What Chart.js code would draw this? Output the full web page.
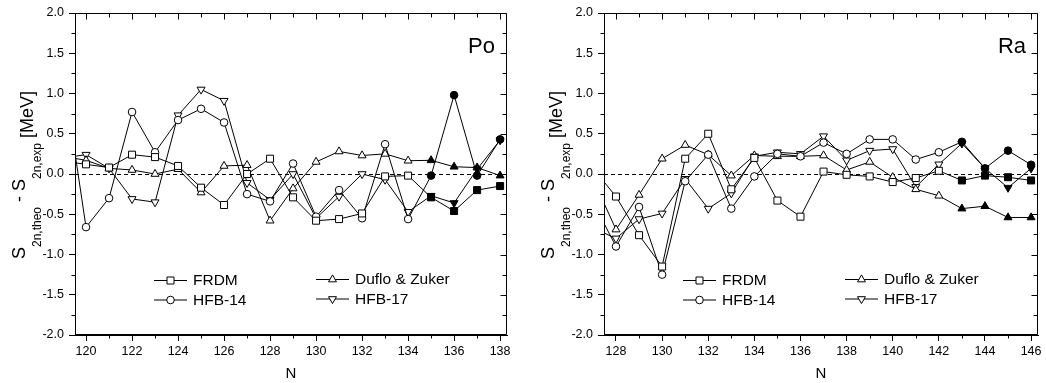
<!DOCTYPE html>
<html><head><meta charset="utf-8">
<script src="https://cdn.jsdelivr.net/npm/chart.js@4"></script>
<style>
html,body{margin:0;padding:0;background:#fff;overflow:hidden}
#wrap{position:relative;width:1046px;height:383px;background:#fff}
canvas{position:absolute;top:0}
</style></head><body>
<div id="wrap">
<canvas id="po" width="523" height="383" style="left:0"></canvas>
<canvas id="ra" width="523" height="383" style="left:523px"></canvas>
</div>
<script>
// ---------- data ----------
const poN    = [119,120,121,122,123,124,125,126,127,128,129,130,131,132,133,134,135,136,137,138];
const poFRDM = [0.16,0.12,0.08,0.24,0.21,0.10,-0.17,-0.385,0.00,0.19,-0.29,-0.58,-0.56,-0.49,-0.03,-0.02,-0.29,-0.46,-0.20,-0.15];
const poHFB14= [1.25,-0.66,-0.30,0.77,0.27,0.67,0.81,0.64,-0.25,-0.34,0.13,-0.53,-0.20,-0.55,0.37,-0.56,-0.02,0.98,-0.02,0.43];
const poDZ   = [0.22,0.17,0.07,0.05,0.00,0.06,-0.23,0.10,0.11,-0.58,-0.18,0.15,0.28,0.23,0.25,0.165,0.17,0.09,0.08,-0.02];
const poHFB17= [0.20,0.24,0.07,-0.31,-0.35,0.73,1.05,0.91,-0.11,-0.32,0.00,-0.55,-0.28,0.00,-0.07,-0.47,-0.27,-0.36,0.06,0.42];
const poFilledFrom = 135;

const raN    = [127,128,129,130,131,132,133,134,135,136,137,138,139,140,141,142,143,144,145,146];
const raFRDM = [0.07,-0.28,-0.76,-1.15,0.19,0.50,-0.19,0.20,-0.33,-0.53,0.03,-0.01,-0.03,-0.10,-0.05,0.04,-0.08,-0.02,-0.04,-0.08];
const raHFB14= [-0.35,-0.90,-0.41,-1.25,-0.09,0.24,-0.43,-0.03,0.25,0.22,0.39,0.25,0.43,0.43,0.18,0.27,0.40,0.07,0.29,0.115];
const raDZ   = [-0.06,-0.69,-0.26,0.19,0.36,0.24,-0.02,0.23,0.22,0.22,0.23,0.05,0.15,-0.04,-0.19,-0.27,-0.43,-0.40,-0.54,-0.54];
const raHFB17= [-0.67,-0.80,-0.56,-0.49,-0.06,-0.43,-0.24,0.22,0.27,0.25,0.47,0.17,0.29,0.31,-0.16,0.12,0.38,0.07,-0.17,0.07];
const raFilledFrom = 143;

const seriesNames = ['FRDM','HFB-14','Duflo & Zuker','HFB-17'];
const yTicks = [-2.0,-1.5,-1.0,-0.5,0.0,0.5,1.0,1.5,2.0];

// ---------- styling ----------
const FONT = "'Liberation Sans', Arial, sans-serif";
const markerDefs = [
  {style:'rect', radius:4.95, rotation:0},
  {style:'circle', radius:3.8, rotation:0},
  {style:'triangle', radius:4.6, rotation:0},
  {style:'triangle', radius:4.6, rotation:180}
];

function drawMarker(ctx, idx, x, y, fill){
  ctx.save();
  ctx.fillStyle = fill; ctx.strokeStyle = '#000'; ctx.lineWidth = 1;
  ctx.beginPath();
  if (idx === 0){ const h = 3.5; ctx.rect(x-h, y-h, 2*h, 2*h); }
  else if (idx === 1){ ctx.arc(x, y, 3.8, 0, Math.PI*2); }
  else {
    const r = 4.6, s = idx === 2 ? 1 : -1;
    ctx.moveTo(x, y - s*r);
    ctx.lineTo(x + 0.866*r, y + s*0.5*r);
    ctx.lineTo(x - 0.866*r, y + s*0.5*r);
    ctx.closePath();
  }
  ctx.fill(); ctx.stroke();
  ctx.restore();
}

const framePlugin = {
  id: 'frame',
  beforeDatasetsDraw(chart){
    const {ctx, chartArea:a, scales:{y}} = chart;
    const y0 = Math.round(y.getPixelForValue(0)) + 0.5;
    ctx.save();
    ctx.strokeStyle = '#000'; ctx.lineWidth = 1; ctx.setLineDash([4,3]);
    ctx.beginPath(); ctx.moveTo(a.left, y0); ctx.lineTo(a.right, y0); ctx.stroke();
    ctx.restore();
  },
  afterDraw(chart){
    const {ctx, chartArea:a, scales:{x, y}} = chart;
    const o = chart.options.plugins.frame;
    ctx.save();
    ctx.strokeStyle = '#000'; ctx.lineWidth = 1;
    const L = Math.round(a.left)+0.5, R = Math.round(a.right)-0.5, T = Math.round(a.top)+0.5, B = Math.round(a.bottom)-0.5;
    ctx.beginPath(); ctx.rect(L, T, R-L, B-T); ctx.stroke();
    ctx.beginPath();
    // x ticks: bottom (outward minor), top (inward all)
    for (let n = Math.ceil(x.min); n <= x.max; n++){
      const px = Math.round(x.getPixelForValue(n)) + 0.5;
      const major = n % 2 === 0;
      if (!major){ ctx.moveTo(px, B); ctx.lineTo(px, B+4); }
      ctx.moveTo(px, T); ctx.lineTo(px, T + (major ? 6 : 4));
    }
    // y ticks: left minor outward, right inward
    for (let k = -8; k <= 8; k++){
      const v = k*0.25;
      const py = Math.round(y.getPixelForValue(v)) + 0.5;
      const major = k % 2 === 0;
      if (!major){ ctx.moveTo(L, py); ctx.lineTo(L-4, py); }
      ctx.moveTo(R, py); ctx.lineTo(R - (major ? 6 : 4), py);
    }
    ctx.stroke();

    // y title with subscripts
    const cy = (a.top + a.bottom)/2 + 1;
    const baseX = a.left - 50;
    const parts = [
      ['S', 18, 0], ['2n,theo', 12, 16], [' - ', 18, 0], ['S', 18, 0], ['2n,exp', 12, 16], [' [MeV]', 18, 8]
    ];
    let total = 0;
    parts.forEach(p => { ctx.font = p[1] + 'px ' + FONT; p.push(ctx.measureText(p[0]).width); total += p[3]; });
    ctx.translate(baseX, cy);
    ctx.rotate(-Math.PI/2);
    ctx.fillStyle = '#000'; ctx.textBaseline = 'alphabetic'; ctx.textAlign = 'left';
    let cx = -total/2;
    parts.forEach(p => { ctx.font = p[1] + 'px ' + FONT; ctx.fillText(p[0], cx, p[2]); cx += p[3]; });
    ctx.setTransform(1,0,0,1,0,0);

    // panel label
    ctx.font = '22px ' + FONT; ctx.textAlign = 'right'; ctx.textBaseline = 'alphabetic';
    ctx.fillText(o.label, a.right - 12, 53);

    // legend
    const leg = [
      {i:0, dx:79, y:280}, {i:1, dx:79, y:299.5},
      {i:2, dx:241, y:279}, {i:3, dx:241, y:298.5}
    ];
    ctx.font = '15.5px ' + FONT; ctx.textAlign = 'left'; ctx.textBaseline = 'middle';
    leg.forEach(e => {
      const x1 = a.left + e.dx, x2 = x1 + 33;
      ctx.beginPath(); ctx.moveTo(x1, e.y+0.5); ctx.lineTo(x2, e.y+0.5); ctx.stroke();
      drawMarker(ctx, e.i, (x1+x2)/2, e.y + 0.5, '#fff');
      ctx.fillStyle = '#000';
      ctx.fillText(seriesNames[e.i], x2 + 6, e.y + 1);
    });
    ctx.restore();
  }
};

function makeChart(id, N, series, filledFrom, xMin, xMax, yW, padRight, label){
  const datasets = series.map((vals, i) => ({
    label: seriesNames[i],
    data: N.map((n, j) => ({x: n, y: vals[j]})),
    borderColor: '#000', borderWidth: 1, tension: 0,
    pointStyle: markerDefs[i].style,
    pointRadius: markerDefs[i].radius,
    pointRotation: markerDefs[i].rotation,
    pointBorderColor: '#000', pointBorderWidth: 1,
    pointBackgroundColor: c => (c.raw && c.raw.x >= filledFrom) ? '#000' : '#fff',
    fill: false
  }));
  return new Chart(document.getElementById(id), {
    type: 'line',
    data: {datasets},
    plugins: [framePlugin],
    options: {
      responsive: false, animation: false, devicePixelRatio: 1,
      layout: {padding: {top: 13, right: padRight, left: 0, bottom: 0}},
      plugins: {legend: {display: false}, tooltip: {enabled: false}, frame: {label}},
      scales: {
        x: {
          type: 'linear', min: xMin, max: xMax,
          afterFit: s => { s.height = 48; },
          ticks: {stepSize: 2, includeBounds: false, autoSkip: false, maxRotation: 0, padding: 3,
                  color: '#000', font: {family: FONT, size: 12.5}, callback: v => String(v)},
          grid: {drawOnChartArea: false, drawTicks: true, tickLength: 6, color: '#000'},
          border: {display: true, color: '#000'},
          title: {display: true, text: 'N', color: '#000', font: {family: FONT, size: 15}, padding: {top: 0, bottom: 0}}
        },
        y: {
          type: 'linear', min: -2, max: 2,
          afterFit: s => { s.width = yW; },
          afterBuildTicks: s => { s.ticks = yTicks.map(v => ({value: v})); },
          ticks: {padding: 5, color: '#000', font: {family: FONT, size: 12.5}, callback: v => Number(v).toFixed(1)},
          grid: {drawOnChartArea: false, drawTicks: true, tickLength: 6, color: '#000'},
          border: {display: true, color: '#000'}
        }
      }
    }
  });
}

makeChart('po', poN, [poFRDM, poHFB14, poDZ, poHFB17], poFilledFrom, 119.52, 138.3, 75, 16, 'Po');
makeChart('ra', raN, [raFRDM, raHFB14, raDZ, raHFB17], raFilledFrom, 127.48, 146.3, 81, 8, 'Ra');
</script>
</body></html>
